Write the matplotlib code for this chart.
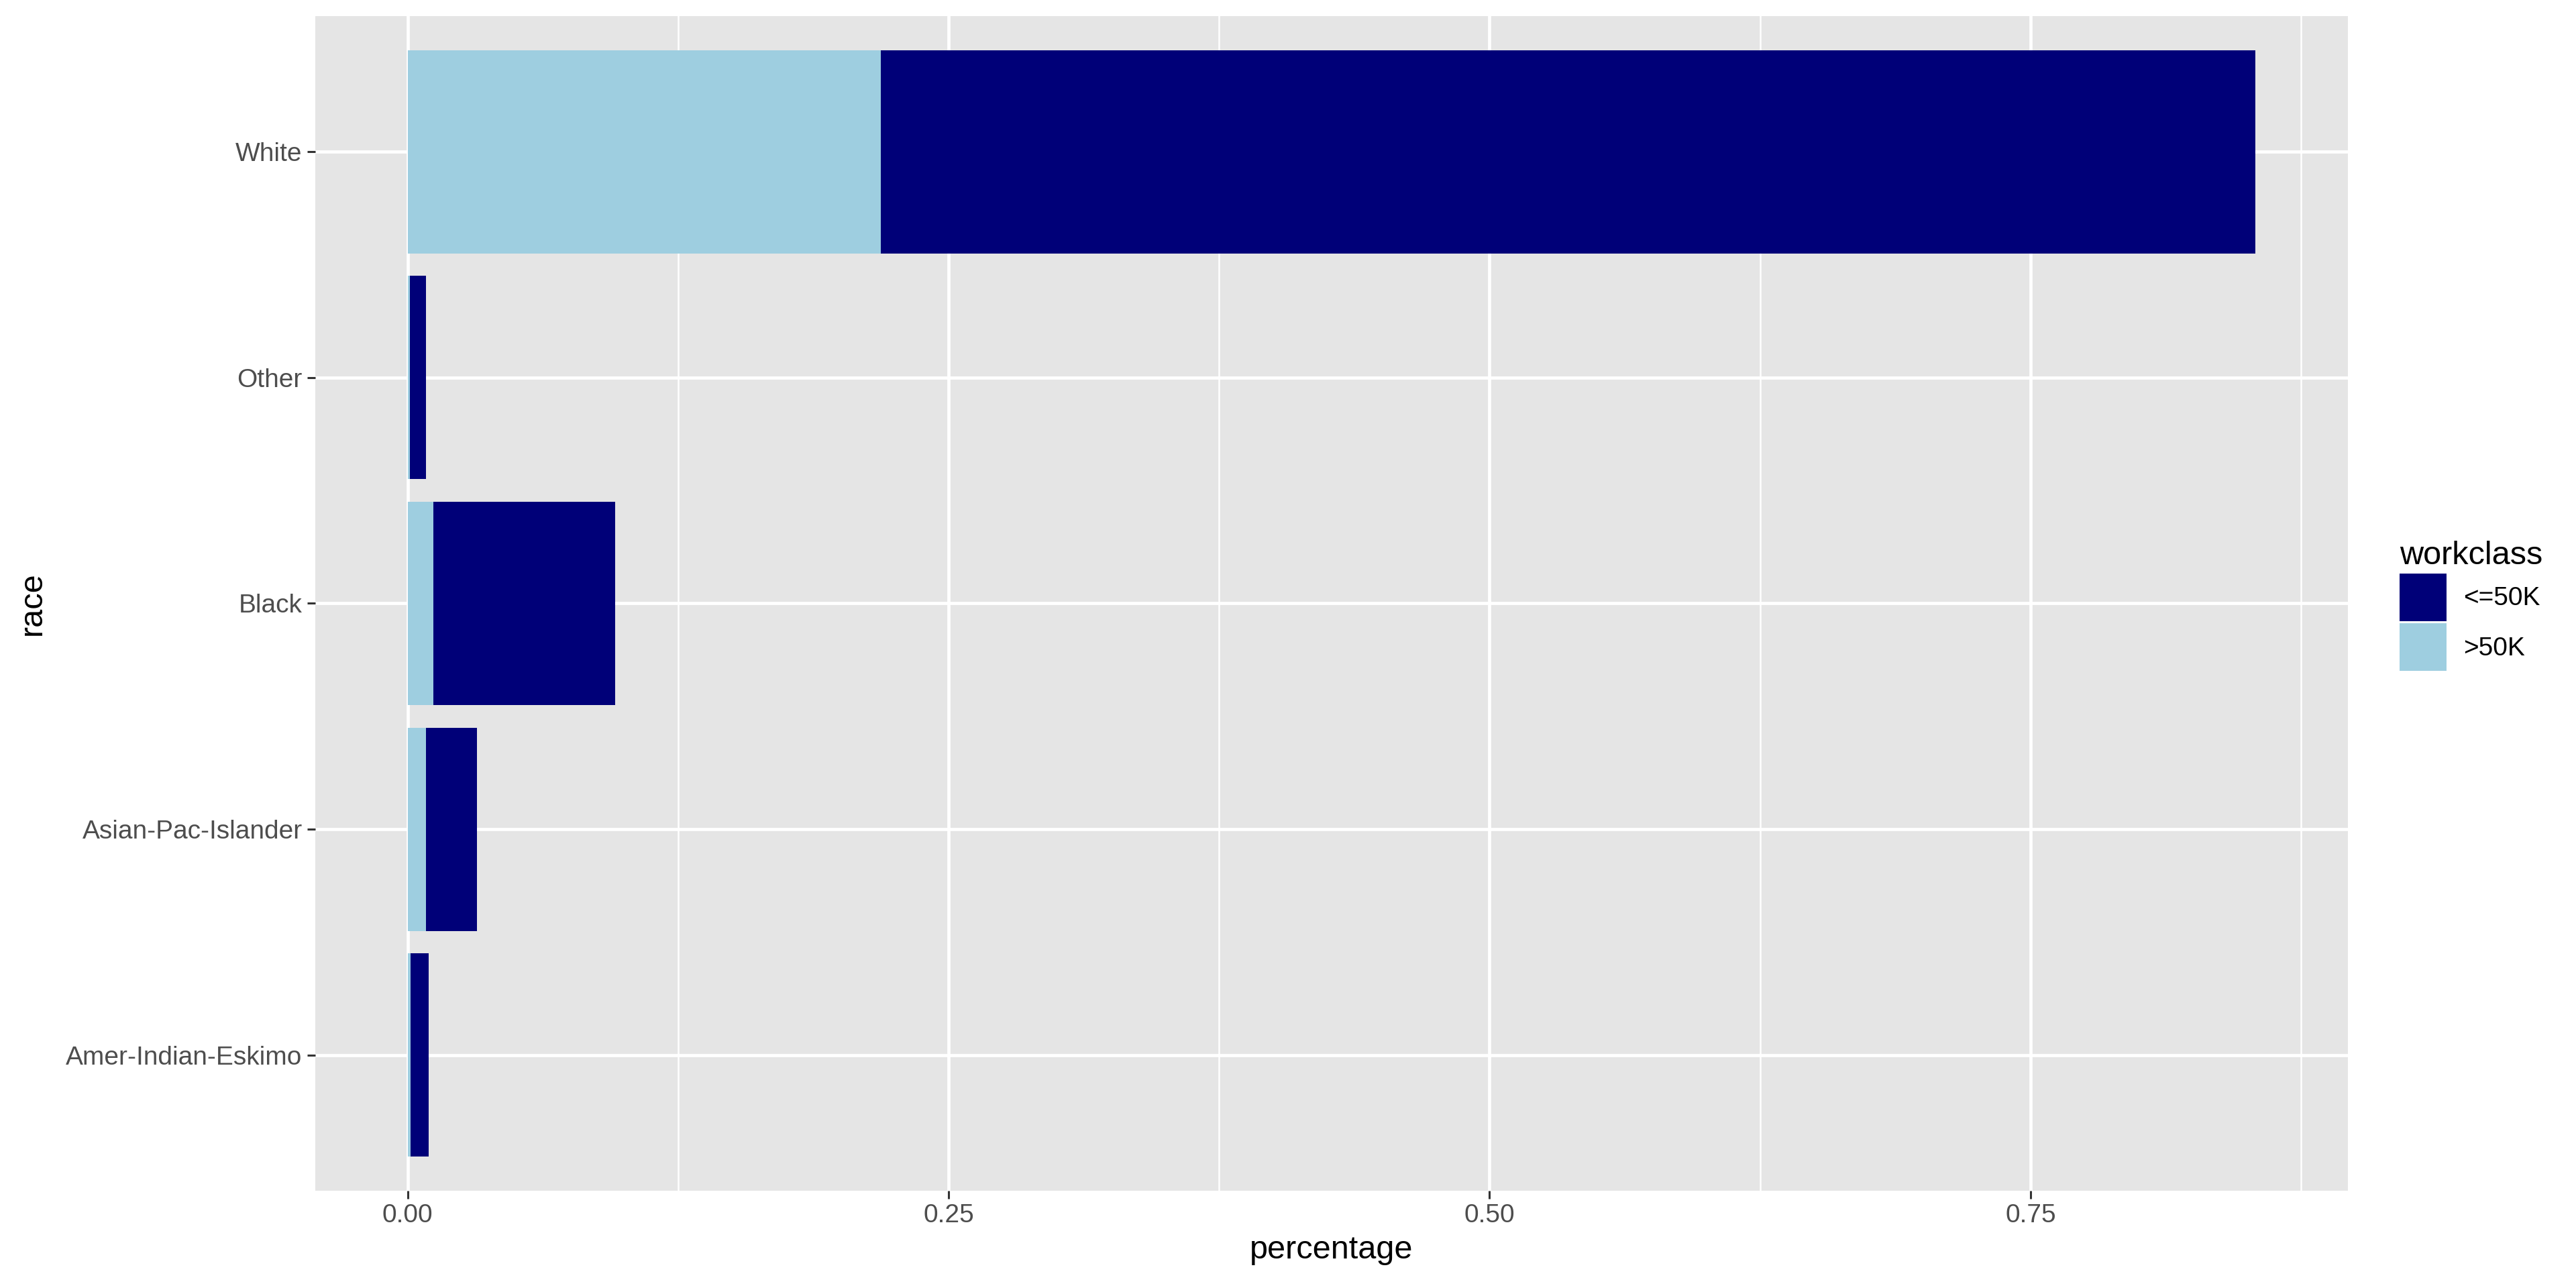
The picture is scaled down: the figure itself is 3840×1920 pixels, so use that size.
import matplotlib
matplotlib.use("Agg")
import matplotlib.pyplot as plt
from matplotlib.patches import Patch
from matplotlib.ticker import MultipleLocator, FuncFormatter

plt.rcParams['font.family'] = ['Liberation Sans', 'DejaVu Sans']

races = ["Amer-Indian-Eskimo", "Asian-Pac-Islander", "Black", "Other", "White"]
gt50k = [0.0012, 0.0084, 0.0118, 0.0009, 0.2186]
le50k = [0.0084, 0.0236, 0.0840, 0.0075, 0.6354]
series_labels = ["<=50K", ">50K"]
colors = {"<=50K": "#000078", ">50K": "#9ECEE0"}

fig = plt.figure(figsize=(38.4, 19.2), dpi=100)
ax = fig.add_axes([470/3840, 1 - 1775/1920, (3500-470)/3840, (1775-24)/1920])
ax.set_facecolor("#E5E5E5")

ypos = list(range(1, len(races) + 1))
ax.barh(ypos, gt50k, height=0.9, color=colors[">50K"], zorder=3)
ax.barh(ypos, le50k, left=gt50k, height=0.9, color=colors["<=50K"], zorder=3)

totals = [a + b for a, b in zip(gt50k, le50k)]
xmax = max(totals)
ax.set_xlim(-0.05 * xmax, xmax * 1.05)
ax.set_ylim(0.4, len(races) + 0.6)

ax.set_yticks(ypos)
ax.set_yticklabels(races)
ax.xaxis.set_major_locator(MultipleLocator(0.25))
ax.xaxis.set_minor_locator(MultipleLocator(0.125))
ax.xaxis.set_major_formatter(FuncFormatter(lambda v, p: f"{v:.2f}"))

ax.grid(which="major", color="white", linewidth=3.4, zorder=1)
ax.grid(which="minor", axis="x", color="white", linewidth=1.8, zorder=1)
ax.set_axisbelow(True)
for s in ax.spines.values():
    s.set_visible(False)

ax.tick_params(axis="both", which="major", length=8.9, width=2.2, color="#333333",
               labelsize=28, labelcolor="#4D4D4D")
ax.tick_params(axis="x", which="major", pad=5)
ax.tick_params(axis="y", which="major", pad=5)
ax.tick_params(axis="x", which="minor", length=0)

ax.set_xlabel("percentage", fontsize=35, color="black", labelpad=8)
ax.set_ylabel("race", fontsize=35, color="black", labelpad=20)

handles = [Patch(facecolor=colors[s], edgecolor="none", label=s) for s in series_labels]
leg = fig.legend(handles=handles, loc="center left", bbox_to_anchor=(3577/3840, 1 - 903/1920),
                 frameon=False, title="workclass", fontsize=28, title_fontsize=35,
                 handlelength=1.8, handleheight=2.43, labelspacing=0.1,
                 handletextpad=0.64, borderpad=0, borderaxespad=0)
leg._legend_box.align = "left"

fig.savefig("out.png", dpi=100)
